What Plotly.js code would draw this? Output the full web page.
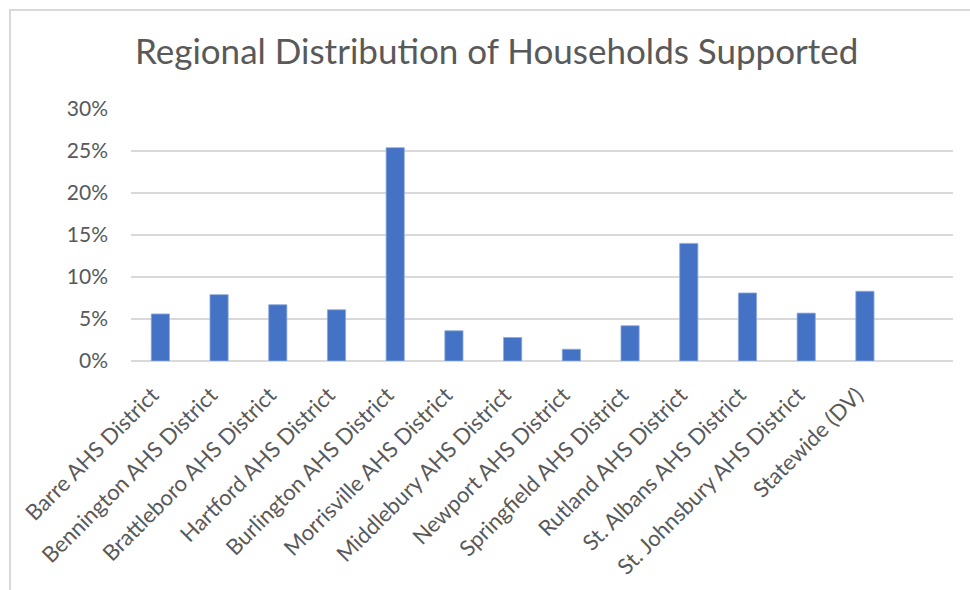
<!DOCTYPE html>
<html>
<head>
<meta charset="utf-8">
<script src="https://cdn.plot.ly/plotly-3.0.1.min.js"></script>
<style>
  html, body { margin: 0; padding: 0; background: #fff; }
  #wrap { position: relative; width: 970px; height: 590px; }
  #chart { width: 970px; height: 590px; }
  #frame { position: absolute; left: 9px; top: 9px; width: 970px; height: 600px;
           border-left: 2px solid #d9d9d9; border-top: 2px solid #d9d9d9; pointer-events: none; }
</style>
</head>
<body>
<div id="wrap">
  <div id="chart"></div>
  <div id="frame"></div>
</div>
<script>
const chartTitle = "Regional Distribution of Households Supported";
const categories = [
  "Barre AHS District",
  "Bennington AHS District",
  "Brattleboro AHS District",
  "Hartford AHS District",
  "Burlington AHS District",
  "Morrisville AHS District",
  "Middlebury AHS District",
  "Newport AHS District",
  "Springfield AHS District",
  "Rutland AHS District",
  "St. Albans AHS District",
  "St. Johnsbury AHS District",
  "Statewide (DV)"
];
const shares = [0.056, 0.079, 0.067, 0.061, 0.254, 0.036, 0.028, 0.014, 0.042, 0.140, 0.081, 0.057, 0.083];
const yTickValues = [0, 0.05, 0.10, 0.15, 0.20, 0.25, 0.30];

const fontFamily = "Lato, 'Open Sans', sans-serif";
const textColor = "#595959";

const trace = {
  type: "bar",
  x: categories,
  y: shares,
  marker: { color: "#4472C4", line: { color: "#8faadc", width: 0.8 } },
  hoverinfo: "x+y"
};

const layout = {
  width: 970,
  height: 590,
  paper_bgcolor: "#ffffff",
  plot_bgcolor: "#ffffff",
  margin: { l: 131, r: 17, t: 109, b: 229 },
  showlegend: false,
  bargap: 0.69,
  title: {
    text: chartTitle,
    font: { family: fontFamily, size: 35, color: textColor },
    x: 0.512, xanchor: "center",
    y: 1 - 52 / 590, yanchor: "middle"
  },
  xaxis: {
    type: "category",
    range: [-0.5, 13.5],
    tickangle: -45,
    tickfont: { family: fontFamily, size: 22, color: textColor },
    showgrid: false,
    showline: false,
    zeroline: false,
    ticks: "",
    ticklabelstandoff: 16,
    ticklabelshift: -8
  },
  yaxis: {
    range: [0, 0.30],
    tickvals: yTickValues,
    tickformat: ".0%",
    tickfont: { family: fontFamily, size: 21, color: textColor },
    showgrid: true,
    gridcolor: "#d9d9d9",
    gridwidth: 1.5,
    zeroline: true,
    zerolinecolor: "#d9d9d9",
    zerolinewidth: 1.5,
    showline: false,
    ticks: "",
    ticklabelstandoff: 22
  }
};

Plotly.newPlot("chart", [trace], layout, { displayModeBar: false, staticPlot: true });
</script>
</body>
</html>
